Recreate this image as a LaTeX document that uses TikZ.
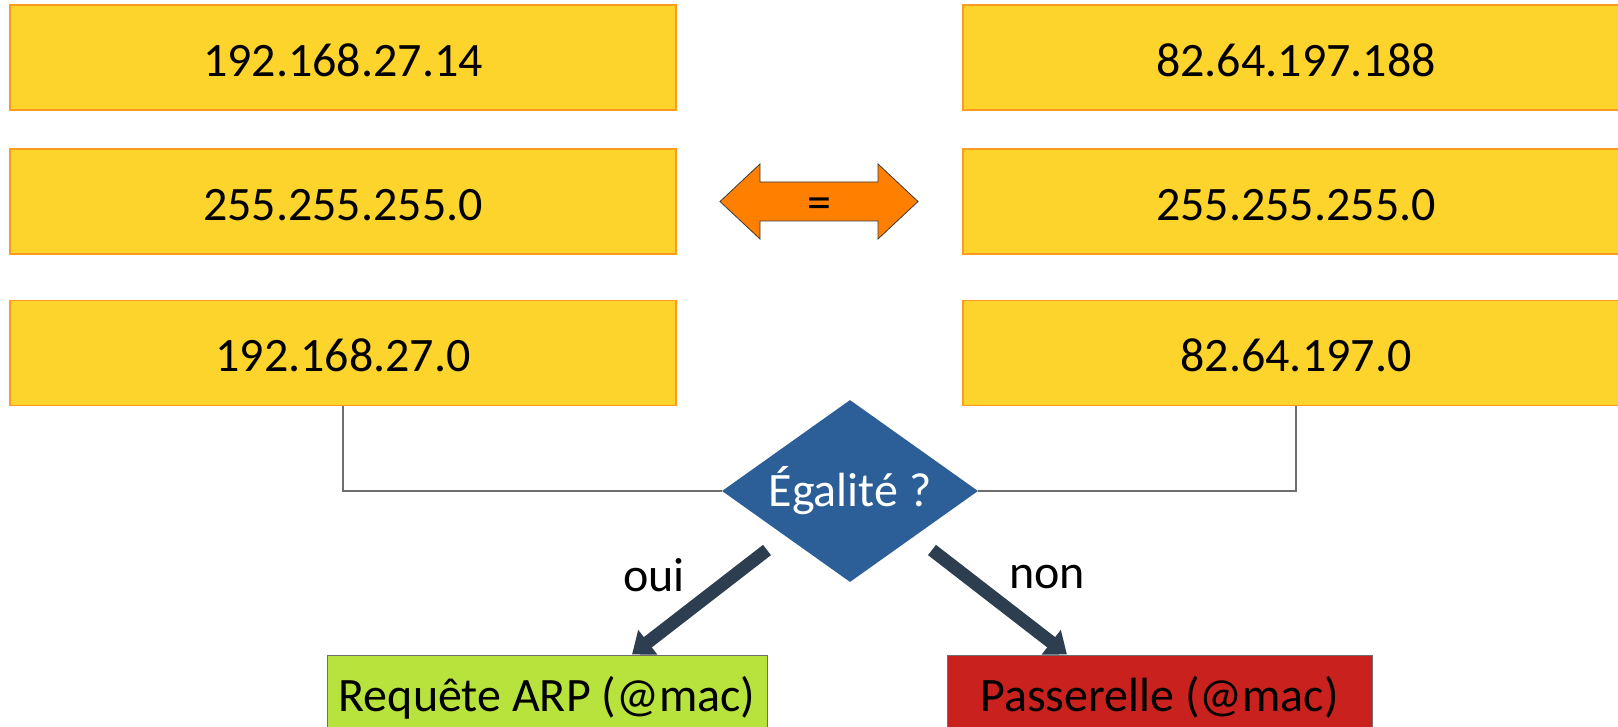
\documentclass[tikz,border=0pt]{standalone}
\usepackage{fontspec}
\setmainfont{Carlito}
\usetikzlibrary{shapes.geometric,arrows.meta}

\definecolor{ipyellow}{HTML}{FDD42B}
\definecolor{iporange}{HTML}{FF9A1F}
\definecolor{eqorange}{HTML}{FF8000}
\definecolor{eqedge}{HTML}{3A3A3A}
\definecolor{testblue}{HTML}{2C5F97}
\definecolor{flowdark}{HTML}{2C3E50}
\definecolor{yesgreen}{HTML}{B8E23C}
\definecolor{nored}{HTML}{C9211E}
\definecolor{wiregray}{HTML}{6E6E6E}

\begin{document}
\begin{tikzpicture}[x=1pt,y=-1pt,
  every node/.style={font=\fontsize{48}{58}\selectfont},
  ipbox/.style={rectangle, fill=ipyellow, draw=iporange, line width=1.2pt,
    minimum width=666pt, minimum height=105pt, inner sep=0pt,
    text height=38pt, text depth=0pt},
  test/.style={diamond, fill=testblue, text=white, inner sep=0pt,
    shape aspect=1.4, minimum width=256pt, minimum height=182pt},
  result/.style={rectangle, draw=wiregray, line width=1pt, inner sep=0pt,
    minimum height=85pt},
  wire/.style={draw=wiregray, line width=1.3pt},
  flow/.style={draw=flowdark, line width=13pt,
    -{Triangle[length=20pt,width=30pt]}},
  eqarrow/.style={fill=eqorange, draw=eqedge, line width=0.8pt}
]
\useasboundingbox (0,0) rectangle (1618,727);
\clip (0,0) rectangle (1618,727);

% source host: address, mask, network
\node[ipbox] (srcip)   at (343,57.5)  {192.168.27.14};
\node[ipbox] (srcmask) at (343,201.5) {255.255.255.0};
\node[ipbox] (srcnet)  at (343,353)   {192.168.27.0};

% destination host: address, mask, network
\node[ipbox] (dstip)   at (1296,57.5)  {82.64.197.188};
\node[ipbox] (dstmask) at (1296,201.5) {255.255.255.0};
\node[ipbox] (dstnet)  at (1296,353)   {82.64.197.0};

% same mask on both sides
\path[eqarrow] (720,201.5) -- (760,164) -- (760,182) -- (878,182) -- (878,164)
  -- (918,201.5) -- (878,239) -- (878,221) -- (760,221) -- (760,239) -- cycle;
\node (same) at (819,208) {=};

% comparison of the two networks
\node[test] (cmp) at (850,491) {Égalité ?};
\draw[wire] (srcnet.south) |- (cmp.west);
\draw[wire] (dstnet.south) |- (cmp.east);

% outcomes
\node[result, fill=yesgreen, minimum width=440pt] (arp) at (547,697.5) {Requête ARP (@mac)};
\node[result, fill=nored, minimum width=425pt] (gw) at (1159.5,697.5) {Passerelle (@mac)};

\coordinate (yesfrom) at (767,550);
\coordinate (nofrom) at (932,550);
\draw[flow] (yesfrom) -- ([xshift=85pt]arp.north);
\draw[flow] (nofrom) -- ([xshift=-92.5pt]gw.north);

\node (yes) at (654,575) {oui};
\node (no) at (1047,577) {non};
\end{tikzpicture}
\end{document}
